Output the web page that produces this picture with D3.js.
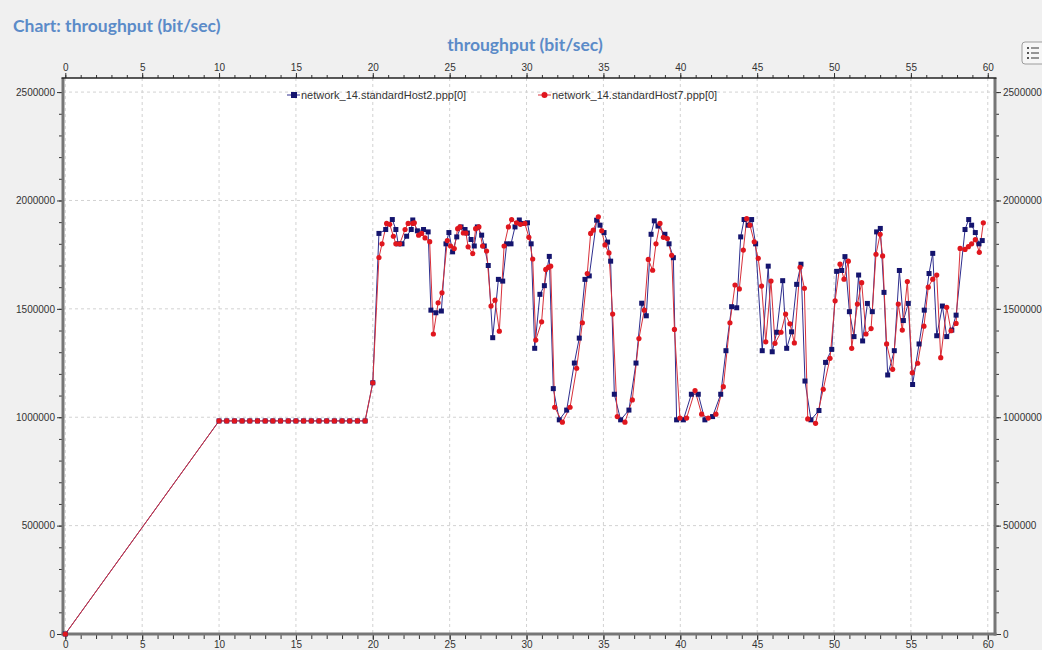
<!DOCTYPE html>
<html>
<head>
<meta charset="utf-8">
<script src="https://cdn.jsdelivr.net/npm/d3@7"></script>
<style>
body { margin: 0; background: #f0f0f0; overflow: hidden; }
svg text { font-family: "Liberation Sans", Arial, sans-serif; }
</style>
</head>
<body>
<div id="chart"></div>
<script>

// datos (tiempo en s, throughput en bit/sec)
var host2Time = [0, 10, 10.5, 11, 11.5, 12, 12.5, 13, 13.5, 14, 14.5, 15, 15.5, 16, 16.5, 17, 17.5, 18, 18.5, 19, 19.5,
	20, 20.4, 20.84, 21.27, 21.5, 21.65, 21.9, 22.2, 22.5, 22.6,
	22.9, 23.3, 23.6, 23.78, 24.1, 24.46, 24.76, 24.95, 25.19, 25.46,
	25.74, 26, 26.15, 26.39, 26.6, 26.8, 27.08, 27.25, 27.51, 27.8,
	28.17, 28.45, 28.71, 28.99, 29.25, 29.53, 29.78, 30.06, 30.3, 30.53,
	30.87, 31.16, 31.48, 31.74, 32.13, 32.61, 33.11, 33.43, 33.8, 34.08,
	34.56, 34.78, 35.04, 35.27, 35.47, 35.71, 36.12, 36.66, 37.12, 37.49,
	37.79, 38.1, 38.31, 38.55, 39, 39.27, 39.55, 39.76, 40.2, 40.72,
	41.17, 41.6, 42.1, 42.63, 42.97, 43.34, 43.67, 43.93, 44.15, 44.42,
	44.64, 44.9, 45.33, 45.72, 45.98, 46.27, 46.66, 46.92, 47.24, 47.57,
	47.85, 48.11, 48.5, 49.02, 49.45, 49.85, 50.17, 50.5, 50.71, 51,
	51.3, 51.6, 51.86, 52.17, 52.49, 52.77, 53.01, 53.25, 53.49, 53.92,
	54.25, 54.51, 54.83, 55.11, 55.53, 55.87, 56.18, 56.42, 56.68, 57.05,
	57.33, 57.66, 57.94, 58.52, 58.76, 58.95, 59.19, 59.43, 59.64];

var host2Value = [0, 983000, 983000, 983000, 983000, 983000, 983000, 983000, 983000, 983000, 983000,
	983000, 983000, 983000, 983000, 983000, 983000, 983000, 983000, 983000, 983000,
	1159000, 1848000, 1866000, 1912000, 1866000, 1800000, 1800000, 1835000, 1866000, 1910000,
	1860000, 1866000, 1855000, 1494000, 1482000, 1490000, 1800000, 1852000, 1763000, 1832000,
	1878000, 1866000, 1850000, 1820000, 1790000, 1878000, 1840000, 1790000, 1700000, 1367000,
	1636000, 1628000, 1800000, 1800000, 1878000, 1910000, 1894000, 1897000, 1800000, 1318000,
	1567000, 1607000, 1742000, 1132000, 988000, 1033000, 1250000, 1365000, 1636000, 1652000,
	1909000, 1886000, 1852000, 1808000, 1720000, 1106000, 988000, 1033000, 1250000, 1526000,
	1468000, 1844000, 1906000, 1882000, 1844000, 1800000, 1736000, 988000, 988000, 1106000,
	1106000, 988000, 1003000, 1106000, 1307000, 1510000, 1505000, 1832000, 1912000, 1886000,
	1912000, 1800000, 1307000, 1697000, 1302000, 1392000, 1630000, 1318000, 1394000, 1613000,
	1706000, 1167000, 988000, 1031000, 1253000, 1313000, 1673000, 1677000, 1741000, 1487000,
	1372000, 1656000, 1352000, 1525000, 1487000, 1855000, 1871000, 1576000, 1195000, 1307000,
	1677000, 1446000, 1525000, 1151000, 1338000, 1494000, 1663000, 1756000, 1376000, 1513000,
	1372000, 1402000, 1471000, 1866000, 1912000, 1886000, 1852000, 1800000, 1815000];

var host7Time = [0, 10, 10.5, 11, 11.5, 12, 12.5, 13, 13.5, 14, 14.5, 15, 15.5, 16, 16.5, 17, 17.5, 18, 18.5, 19, 19.5,
	20, 20.4, 20.6, 20.9, 21.1, 21.34, 21.5, 21.75, 22.1, 22.3,
	22.6, 22.7, 22.98, 23.18, 23.4, 23.7, 23.94, 24.25, 24.5, 24.85,
	25.06, 25.3, 25.52, 25.67, 25.89, 26.06, 26.2, 26.5, 26.69, 26.9,
	27.14, 27.4, 27.69, 27.95, 28.23, 28.54, 28.82, 29.03, 29.35, 29.6,
	29.89, 30.15, 30.4, 30.6, 30.98, 31.25, 31.42, 31.57, 31.83, 32.33,
	32.83, 33.26, 33.63, 33.95, 34.17, 34.34, 34.67, 34.89, 35.1, 35.36,
	35.6, 35.9, 36.4, 36.88, 37.31, 37.66, 37.92, 38.2, 38.42, 38.68,
	38.9, 39.16, 39.44, 39.62, 39.98, 40.41, 40.96, 41.39, 41.82, 42.32,
	42.8, 43.23, 43.56, 43.84, 44.1, 44.32, 44.53, 44.81, 45.07, 45.29,
	45.56, 45.9, 46.16, 46.55, 46.85, 47.13, 47.42, 47.79, 48.07, 48.29,
	48.8, 49.3, 49.74, 50.07, 50.39, 50.65, 50.93, 51.15, 51.52, 51.8,
	52.08, 52.41, 52.73, 53, 53.16, 53.42, 53.81, 54.18, 54.44, 54.77,
	55.09, 55.44, 55.85, 56.13, 56.42, 56.68, 56.94, 57.33, 57.61, 57.94,
	58.2, 58.52, 58.74, 58.95, 59.19, 59.45, 59.71];

var host7Value = [0, 983000, 983000, 983000, 983000, 983000, 983000, 983000, 983000, 983000, 983000,
	983000, 983000, 983000, 983000, 983000, 983000, 983000, 983000, 983000, 983000,
	1159000, 1737000, 1800000, 1894000, 1890000, 1835000, 1800000, 1800000, 1866000, 1894000,
	1894000, 1897000, 1840000, 1848000, 1827000, 1810000, 1384000, 1528000, 1574000, 1815000,
	1790000, 1778000, 1870000, 1878000, 1850000, 1850000, 1786000, 1755000, 1870000, 1878000,
	1790000, 1767000, 1513000, 1540000, 1397000, 1790000, 1878000, 1912000, 1897000, 1890000,
	1894000, 1830000, 1730000, 1356000, 1440000, 1682000, 1691000, 1697000, 1046000, 977000,
	1046000, 1226000, 1436000, 1663000, 1848000, 1863000, 1925000, 1860000, 1795000, 1758000,
	1476000, 1003000, 977000, 1080000, 1363000, 1494000, 1728000, 1678000, 1800000, 1894000,
	1830000, 1824000, 1747000, 1405000, 996000, 996000, 1123000, 1014000, 996000, 1014000,
	1141000, 1436000, 1610000, 1592000, 1771000, 1916000, 1886000, 1809000, 1733000, 1605000,
	1348000, 1628000, 1341000, 1392000, 1476000, 1431000, 1343000, 1692000, 1595000, 992000,
	972000, 1129000, 1272000, 1537000, 1706000, 1637000, 1720000, 1318000, 1522000, 1621000,
	1384000, 1409000, 1752000, 1844000, 1744000, 1338000, 1221000, 1522000, 1402000, 1626000,
	1205000, 1249000, 1420000, 1600000, 1637000, 1656000, 1275000, 1507000, 1399000, 1433000,
	1779000, 1774000, 1787000, 1800000, 1819000, 1761000, 1897000];

var seriesNames = ["network_14.standardHost2.ppp[0]", "network_14.standardHost7.ppp[0]"];
var xTicks = [0, 5, 10, 15, 20, 25, 30, 35, 40, 45, 50, 55, 60];
var yTicks = [0, 500000, 1000000, 1500000, 2000000, 2500000];
var chartTitle = "Chart: throughput (bit/sec)";
var plotTitle = "throughput (bit/sec)";

// variables globales (ojo: "top" es de window, no usarlo)
var svg_w = 1042;
var svg_h = 650;
var p_left = 63, p_right = 995, p_top = 78, p_bottom = 634;

var blue = "#14146e";
var red = "#e0161e";
var blue_line = "#2e2e8e";
var red_line = "#d8303a";
var title_color = "#5b8bc8";
var frame_color = "#767676";

var svg = d3.select("#chart")
	.append("svg")
	.attr("width", svg_w)
	.attr("height", svg_h);

svg.append("rect")
	.attr("width", svg_w)
	.attr("height", svg_h)
	.attr("fill", "#f0f0f0");

// titulos
svg.append("text")
	.attr("x", 13)
	.attr("y", 32)
	.style("font-family", "Lato, 'Open Sans', sans-serif")
	.style("font-weight", "bold")
	.style("font-size", "17.5px")
	.attr("fill", title_color)
	.text(chartTitle);

svg.append("text")
	.attr("x", 525)
	.attr("y", 51)
	.attr("text-anchor", "middle")
	.style("font-family", "Lato, 'Open Sans', sans-serif")
	.style("font-weight", "bold")
	.style("font-size", "17.5px")
	.attr("fill", title_color)
	.text(plotTitle);

// boton de la leyenda (arriba a la derecha)
var btn = svg.append("g").attr("transform", "translate(1022,42)");
btn.append("rect")
	.attr("width", 24).attr("height", 22).attr("rx", 3)
	.attr("fill", "#f6f6f6").attr("stroke", "#9c9c9c");
[6, 11, 16].forEach(function(yy) {
	btn.append("rect").attr("x", 5).attr("y", yy - 1).attr("width", 2).attr("height", 2).attr("fill", "#555");
	btn.append("line").attr("x1", 9).attr("x2", 17).attr("y1", yy).attr("y2", yy)
		.attr("stroke", "#555").attr("stroke-width", 1.2);
});

// escalas
var x = d3.scaleLinear()
	.domain([-0.15, 60.47])
	.range([p_left, p_right]);

var y = d3.scaleLinear()
	.domain([0, 2565000])
	.range([p_bottom, p_top]);

// area del grafico
svg.append("rect")
	.attr("x", p_left)
	.attr("y", p_top)
	.attr("width", p_right - p_left)
	.attr("height", p_bottom - p_top)
	.attr("fill", "#ffffff");

// rejilla
var grid = svg.append("g").attr("class", "grid");
grid.selectAll(".vgrid")
	.data(xTicks)
	.enter()
	.append("line")
	.attr("x1", function(d) { return x(d); })
	.attr("x2", function(d) { return x(d); })
	.attr("y1", p_top)
	.attr("y2", p_bottom);
grid.selectAll(".hgrid")
	.data(yTicks)
	.enter()
	.append("line")
	.attr("x1", p_left)
	.attr("x2", p_right)
	.attr("y1", function(d) { return y(d); })
	.attr("y2", function(d) { return y(d); });
grid.selectAll("line")
	.attr("stroke", "#d2d2d2")
	.attr("stroke-width", 1)
	.attr("stroke-dasharray", "3,3");

// ejes
function styleAxis(g) {
	g.select(".domain").remove();
	g.selectAll("line").attr("stroke", "#333");
	g.selectAll("text")
		.attr("fill", "#333")
		.style("font-size", "10px")
		.style("font-family", "'Liberation Sans', Arial, sans-serif");
}

var minorX = d3.range(0, 61, 1);
var minorY = d3.range(0, 2500001, 100000);

svg.append("g").attr("transform", "translate(0," + p_top + ")")
	.call(d3.axisTop(x).tickValues(minorX).tickSize(3).tickFormat(""))
	.call(styleAxis);
svg.append("g").attr("transform", "translate(0," + p_top + ")")
	.call(d3.axisTop(x).tickValues(xTicks).tickSize(5).tickPadding(2))
	.call(styleAxis);

svg.append("g").attr("transform", "translate(0," + (p_bottom + 1) + ")")
	.call(d3.axisBottom(x).tickValues(minorX).tickSize(4).tickFormat(""))
	.call(styleAxis);
svg.append("g").attr("transform", "translate(0," + (p_bottom + 1) + ")")
	.call(d3.axisBottom(x).tickValues(xTicks).tickSize(5).tickPadding(1))
	.call(styleAxis);

svg.append("g").attr("transform", "translate(" + (p_left - 1) + ",0)")
	.call(d3.axisLeft(y).tickValues(minorY).tickSize(3).tickFormat(""))
	.call(styleAxis);
svg.append("g").attr("transform", "translate(" + (p_left - 1) + ",0)")
	.call(d3.axisLeft(y).tickValues(yTicks).tickSize(5).tickPadding(2).tickFormat(d3.format("d")))
	.call(styleAxis);

svg.append("g").attr("transform", "translate(" + (p_right + 1) + ",0)")
	.call(d3.axisRight(y).tickValues(minorY).tickSize(3).tickFormat(""))
	.call(styleAxis);
svg.append("g").attr("transform", "translate(" + (p_right + 1) + ",0)")
	.call(d3.axisRight(y).tickValues(yTicks).tickSize(5).tickPadding(2).tickFormat(d3.format("d")))
	.call(styleAxis);

// marco
svg.append("line").attr("x1", p_left).attr("x2", p_left).attr("y1", p_top).attr("y2", p_bottom + 1.5)
	.attr("stroke", frame_color).attr("stroke-width", 3);
svg.append("line").attr("x1", p_right).attr("x2", p_right).attr("y1", p_top).attr("y2", p_bottom + 1.5)
	.attr("stroke", frame_color).attr("stroke-width", 3);
svg.append("line").attr("x1", p_left - 1.5).attr("x2", p_right + 1.5).attr("y1", p_bottom).attr("y2", p_bottom)
	.attr("stroke", frame_color).attr("stroke-width", 3);
svg.append("line").attr("x1", p_left - 1.5).attr("x2", p_right + 1.5).attr("y1", p_top).attr("y2", p_top)
	.attr("stroke", "#222").attr("stroke-width", 1.5);

// series
var series = [
	{ time: host2Time, value: host2Value, line: blue_line, fill: blue, shape: "square" },
	{ time: host7Time, value: host7Value, line: red_line, fill: red, shape: "circle" }
];

var plot = svg.append("g");

var line = d3.line()
	.x(function(d) { return x(d[0]); })
	.y(function(d) { return y(d[1]); });

series.forEach(function(s) {
	var pts = s.time.map(function(t, i) { return [t, s.value[i]]; });
	plot.append("path")
		.datum(pts)
		.attr("fill", "none")
		.attr("stroke", s.line)
		.attr("stroke-width", 1)
		.attr("d", line);
});

series.forEach(function(s) {
	var pts = s.time.map(function(t, i) { return [t, s.value[i]]; });
	if (s.shape == "square") {
		plot.selectAll(".sq")
			.data(pts)
			.enter()
			.append("rect")
			.attr("class", "sq")
			.attr("x", function(d) { return x(d[0]) - 2.5; })
			.attr("y", function(d) { return y(d[1]) - 2.5; })
			.attr("width", 5)
			.attr("height", 5)
			.attr("fill", s.fill);
	}
	else {
		plot.selectAll(".ci")
			.data(pts)
			.enter()
			.append("circle")
			.attr("class", "ci")
			.attr("cx", function(d) { return x(d[0]); })
			.attr("cy", function(d) { return y(d[1]); })
			.attr("r", 2.6)
			.attr("fill", s.fill);
	}
});

// leyenda
var legendX = [287, 538];
var legend = svg.append("g");
series.forEach(function(s, i) {
	var g = legend.append("g").attr("transform", "translate(" + legendX[i] + ",95)");
	g.append("line").attr("x1", 0).attr("x2", 13).attr("y1", 0).attr("y2", 0)
		.attr("stroke", s.line).attr("stroke-width", 1);
	if (s.shape == "square") {
		g.append("rect").attr("x", 4).attr("y", -3).attr("width", 6).attr("height", 6).attr("fill", s.fill);
	}
	else {
		g.append("circle").attr("cx", 6.5).attr("cy", 0).attr("r", 3).attr("fill", s.fill);
	}
	g.append("text")
		.attr("x", 14)
		.attr("y", 4)
		.attr("fill", "#333")
		.style("font-size", "11px")
		.text(seriesNames[i]);
});

</script>
</body>
</html>
